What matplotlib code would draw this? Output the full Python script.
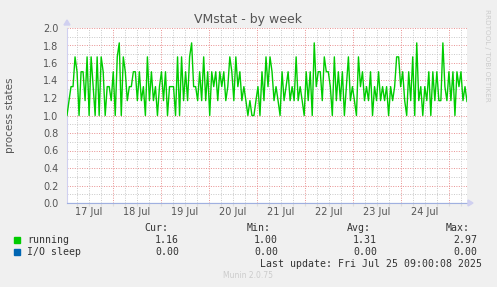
import numpy as np
import pandas as pd
import matplotlib
matplotlib.use("Agg")
import matplotlib.pyplot as plt
import matplotlib.dates as mdates

################ data ################
start = "2025-07-17 01:00"
end = "2025-07-25 09:00"

running_1 = [1.00, 1.17, 1.33, 1.33, 1.67, 1.50, 1.00, 1.50, 1.50, 1.17, 1.67, 1.00, 1.67, 1.33, 1.00, 1.67, 1.00,
             1.67, 1.50, 1.00, 1.33, 1.33, 1.17, 1.50, 1.00, 1.67, 1.83, 1.00, 1.67, 1.50, 1.17, 1.33, 1.33, 1.50]
running_2 = [1.50, 1.17, 1.50, 1.17, 1.33, 1.00, 1.67, 1.17, 1.50, 1.17, 1.33, 1.00, 1.33, 1.50, 1.17, 1.50, 1.00,
             1.33, 1.33, 1.33, 1.00, 1.67, 1.00, 1.67, 1.17, 1.50, 1.17, 1.67, 1.83, 1.33, 1.33, 1.17, 1.50, 1.17]
running_3 = [1.67, 1.17, 1.50, 1.00, 1.50, 1.33, 1.50, 1.17, 1.50, 1.33, 1.50, 1.17, 1.33, 1.67, 1.50, 1.17, 1.67,
             1.33, 1.50, 1.17, 1.33, 1.17, 1.00, 1.17, 1.00, 1.00, 1.17, 1.33, 1.00, 1.50, 1.17, 1.67, 1.33, 1.67]
running_4 = [1.50, 1.17, 1.33, 1.17, 1.00, 1.50, 1.17, 1.33, 1.50, 1.17, 1.33, 1.17, 1.67, 1.17, 1.33, 1.17, 1.00,
             1.50, 1.17, 1.50, 1.00, 1.83, 1.33, 1.50, 1.50, 1.17, 1.67, 1.50, 1.50, 1.33, 1.00, 1.67, 1.17, 1.50]
running_5 = [1.17, 1.50, 1.00, 1.33, 1.67, 1.17, 1.33, 1.17, 1.00, 1.67, 1.33, 1.50, 1.17, 1.33, 1.17, 1.50, 1.00,
             1.33, 1.17, 1.50, 1.17, 1.33, 1.17, 1.33, 1.00, 1.33, 1.17, 1.33, 1.67, 1.67, 1.33, 1.50, 1.17, 1.00]
running_6 = [1.50, 1.17, 1.67, 1.00, 1.83, 1.17, 1.33, 1.00, 1.33, 1.17, 1.50, 1.00, 1.50, 1.17, 1.50, 1.17, 1.17,
             1.83, 1.33, 1.17, 1.50, 1.17, 1.50, 1.00, 1.50, 1.33, 1.50, 1.17, 1.33, 1.16]
running = running_1 + running_2 + running_3 + running_4 + running_5 + running_6
io_sleep = [0.0] * len(running)

series_names = ["running", "I/O sleep"]
series_colors = ["#00CC00", "#0066B3"]
cur_vals = ["1.16", "0.00"]
min_vals = ["1.00", "0.00"]
avg_vals = ["1.31", "0.00"]
max_vals = ["2.97", "0.00"]

yticks = [0.0, 0.2, 0.4, 0.6, 0.8, 1.0, 1.2, 1.4, 1.6, 1.8, 2.0]

############### figure ###############
W, H = 497, 287
fig = plt.figure(figsize=(W / 100, H / 100), dpi=100, facecolor="#F0F0F0")
ax = fig.add_axes([67 / W, (H - 203) / H, 400 / W, 175 / H], facecolor="white")

times = pd.date_range(start, end, periods=len(running))
t0, t1 = mdates.date2num(times[0]), mdates.date2num(times[-1])

# grid
red = "#E89090"
gray = "#C8C8C8"
dot = (0, (1, 1.5))
for v in np.arange(0.1, 2.01, 0.1):
    major = abs(v / 0.2 - round(v / 0.2)) < 1e-6
    ax.axhline(v, color=red if major else gray, lw=0.7, ls=dot, zorder=1)
for h in pd.date_range("2025-07-17 06:00", end, freq="6h"):
    x = mdates.date2num(h)
    ax.axvline(x, color=red if h.hour == 0 else gray, lw=0.7, ls=dot, zorder=1)

ax.plot(mdates.date2num(times), running, color=series_colors[0], lw=1.0, zorder=3)
ax.plot(mdates.date2num(times), io_sleep, color=series_colors[1], lw=0.8, zorder=3, alpha=0.5)

ax.set_xlim(t0, t1)
ax.set_ylim(0, 2.0)
ax.set_yticks(yticks)
ax.set_yticklabels(["%.1f" % v for v in yticks])
for s in ["top", "right"]:
    ax.spines[s].set_visible(False)
ax.spines["left"].set_color("#D0D0F0")
ax.spines["bottom"].set_color("#A0B0E0")
ax.spines["left"].set_linewidth(0.8)
ax.spines["bottom"].set_linewidth(0.8)
ax.tick_params(axis="y", length=0, labelsize=7, labelcolor="#555555", pad=6)

# day labels at noon, ticks every 6h
ticks6 = [mdates.date2num(h) for h in pd.date_range("2025-07-17 06:00", end, freq="6h")]
ax.set_xticks(ticks6)
ax.set_xticklabels([])
ax.tick_params(axis="x", length=2, color="#DDDDDD", direction="out")
for d in pd.date_range("2025-07-17 12:00", "2025-07-24 12:00", freq="1D"):
    ax.text(mdates.date2num(d), -0.05, d.strftime("%d Jul"), ha="center", va="top",
            fontsize=7, color="#555555", clip_on=False)

# axis arrows
fig.patches.append(plt.Polygon([[64 / W, 1 - 25 / H], [70 / W, 1 - 25 / H], [67 / W, 1 - 20 / H]],
                               closed=True, transform=fig.transFigure, color="#D0D0F0"))
fig.patches.append(plt.Polygon([[468 / W, 1 - 200 / H], [468 / W, 1 - 206 / H], [473 / W, 1 - 203 / H]],
                               closed=True, transform=fig.transFigure, color="#D0D0F0"))

fig.text(248 / W, 1 - 19 / H, "VMstat - by week", ha="center", va="center", fontsize=9, color="#555555")
fig.text(10 / W, 1 - 115 / H, "process states", ha="center", va="center", rotation=90,
         fontsize=7.5, color="#555555")
fig.text(487 / W, 1 - 55 / H, "RRDTOOL / TOBI OETIKER", ha="center", va="center", rotation=270,
         fontsize=5.2, color="#CCCCCC")

# legend
mono = "DejaVu Sans Mono"
fs = 7.1
def ft(x, y, s, ha="left", color="#333333"):
    fig.text(x / W, 1 - y / H, s, ha=ha, va="center", family=mono, fontsize=fs, color=color)

ft(168, 228, "Cur:", "right")
ft(271, 228, "Min:", "right")
ft(371, 228, "Avg:", "right")
ft(470, 228, "Max:", "right")
for i, name in enumerate(series_names):
    y = 240 + 12 * i
    fig.patches.append(plt.Rectangle((14 / W, 1 - (y + 3) / H), 6 / W, 6 / H,
                                     transform=fig.transFigure, color=series_colors[i]))
    ft(27, y, name)
    ft(179, y, cur_vals[i], "right")
    ft(278, y, min_vals[i], "right")
    ft(377, y, avg_vals[i], "right")
    ft(477, y, max_vals[i], "right")
ft(482, 264, "Last update: Fri Jul 25 09:00:08 2025", "right")
fig.text(248 / W, 1 - 276 / H, "Munin 2.0.75", ha="center", va="center", fontsize=5.5, color="#CCCCCC")

fig.savefig("out.png", dpi=100, facecolor=fig.get_facecolor())
